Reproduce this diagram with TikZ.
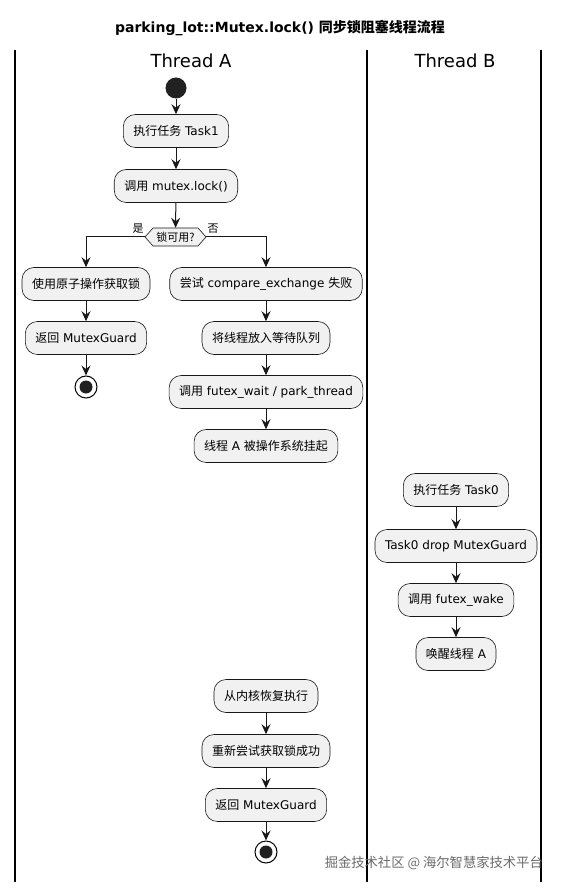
\documentclass[tikz,border=0pt]{standalone}
\usepackage{fontspec}
\setmainfont{DejaVu Sans}
\newfontfamily\cjk{Noto Sans CJK SC}
\newcommand\zh[1]{{\cjk #1}}
\usetikzlibrary{arrows.meta}
\definecolor{boxfill}{HTML}{F1F1F1}
\definecolor{boxline}{HTML}{181818}
\begin{document}
\begin{tikzpicture}[x=1pt,y=-1pt,
  act/.style={draw=boxline, line width=0.6pt, fill=boxfill, rounded corners=12pt,
    minimum height=33pt, inner xsep=10pt, inner ysep=0pt, font=\fontsize{12}{14}\selectfont},
  arr/.style={draw=boxline, line width=1pt, -{Stealth[length=10pt,width=9pt,inset=3.5pt]}},
  lane/.style={draw=black, line width=1.4pt}]
\useasboundingbox (0,0) rectangle (560,890);
\fill[white] (0,0) rectangle (560,890);
% title
\node[font=\bfseries\fontsize{14}{16}\selectfont] (title) at (280,28) {parking\_lot::Mutex.lock() {\cjk 同步锁阻塞线程流程}};
% lanes
\coordinate (l1t) at (15,50); \coordinate (l1b) at (15,882);
\coordinate (l2t) at (367,50); \coordinate (l2b) at (367,882);
\coordinate (l3t) at (541,50); \coordinate (l3b) at (541,882);
\draw[lane] (l1t) -- (l1b);
\draw[lane] (l2t) -- (l2b);
\draw[lane] (l3t) -- (l3b);
\node[font=\fontsize{18}{20}\selectfont] (ta) at (191,61) {Thread A};
\node[font=\fontsize{18}{20}\selectfont] (tb) at (455,61) {Thread B};
% Thread A
\node[circle, fill=black!87, minimum size=21pt, inner sep=0] (start) at (176,88) {};
\node[act] (a1) at (176,131) {\zh{执行任务} Task1};
\node[act] (a2) at (176,186) {\zh{调用} mutex.lock()};
\draw[draw=boxline, line width=0.6pt, fill=boxfill] (145,237) -- (153,228) -- (198,228) -- (206,237) -- (198,246) -- (153,246) -- cycle;
\node[inner sep=0, minimum width=61pt, minimum height=18pt, font=\fontsize{11}{12}\selectfont] (dec) at (175.5,237) {\zh{锁可用?}};
\node[font=\fontsize{11}{12}\selectfont] (yes) at (138,229) {\zh{是}};
\node[font=\fontsize{11}{12}\selectfont] (no) at (213,229) {\zh{否}};
\node[act] (y1) at (86,284) {\zh{使用原子操作获取锁}};
\node[act] (y2) at (86,338) {\zh{返回} MutexGuard};
\node[circle, draw=black, line width=1pt, fill=white, minimum size=22pt, inner sep=0] (end1) at (86,387) {};
\node[circle, fill=black!87, minimum size=13pt, inner sep=0] at (end1) {};
\node[act] (n1) at (266,284) {\zh{尝试} compare\_exchange \zh{失败}};
\node[act] (n2) at (266,338) {\zh{将线程放入等待队列}};
\node[act] (n3) at (266,392) {\zh{调用} futex\_wait / park\_thread};
\node[act] (n4) at (266,446) {\zh{线程} A \zh{被操作系统挂起}};
\node[act] (r1) at (266,696) {\zh{从内核恢复执行}};
\node[act] (r2) at (266,751) {\zh{重新尝试获取锁成功}};
\node[act] (r3) at (266,805) {\zh{返回} MutexGuard};
\node[circle, draw=black, line width=1pt, fill=white, minimum size=22pt, inner sep=0] (end2) at (266,852) {};
\node[circle, fill=black!87, minimum size=13pt, inner sep=0] at (end2) {};
% Thread B
\node[act] (b1) at (456,490) {\zh{执行任务} Task0};
\node[act] (b2) at (456,546) {Task0 drop MutexGuard};
\node[act] (b3) at (456,600) {\zh{调用} futex\_wake};
\node[act] (b4) at (456,654) {\zh{唤醒线程} A};
% arrows
\draw[arr] (start) -- (a1);
\draw[arr] (a1) -- (a2);
\draw[arr] (a2) -- (dec);
\draw[arr] (dec.west) -| (y1.north);
\draw[arr] (dec.east) -| (n1.north);
\draw[arr] (y1) -- (y2);
\draw[arr] (y2) -- (end1);
\draw[arr] (n1) -- (n2);
\draw[arr] (n2) -- (n3);
\draw[arr] (n3) -- (n4);
\draw[arr] (r1) -- (r2);
\draw[arr] (r2) -- (r3);
\draw[arr] (r3) -- (end2);
\draw[arr] (b1) -- (b2);
\draw[arr] (b2) -- (b3);
\draw[arr] (b3) -- (b4);
% watermark
\node[text=black!58, font=\cjk\fontsize{13.3}{14}\selectfont, anchor=east, inner sep=0] (wm) at (543,863) {掘金技术社区 @ 海尔智慧家技术平台};
\end{tikzpicture}
\end{document}
